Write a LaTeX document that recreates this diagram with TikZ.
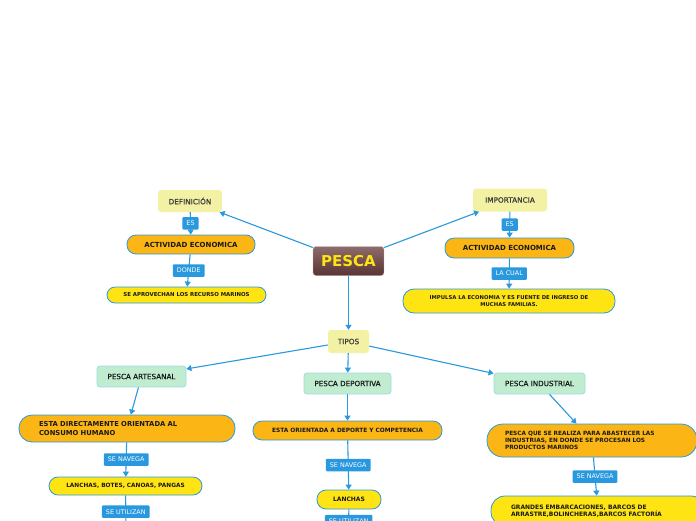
\documentclass[tikz,border=0pt]{standalone}
\usepackage{fontspec}
\setmainfont{DejaVu Sans}
\newfontfamily\medfont[FakeBold=0.7]{DejaVu Sans}
\usepackage{tikz}
\usetikzlibrary{arrows.meta, positioning, shadings}
\definecolor{mapblue}{RGB}{41,152,222}
\definecolor{maporange}{RGB}{251,182,22}
\definecolor{mapyellow}{RGB}{255,228,20}
\definecolor{mapcream}{RGB}{243,241,163}
\definecolor{mapgreen}{RGB}{192,236,208}
\definecolor{mapgreenline}{RGB}{160,218,228}
\definecolor{mapbrowntop}{RGB}{142,108,108}
\definecolor{mapbrownbot}{RGB}{88,52,52}
\definecolor{mapblack}{RGB}{25,25,25}

\begin{document}
\begin{tikzpicture}[
  x=1pt, y=-1pt,
  topbox/.style={rectangle, rounded corners=3pt, minimum width=71pt, minimum height=29pt, top color=mapbrowntop, bottom color=mapbrownbot, draw=mapbrowntop!60, text=mapyellow, font=\bfseries\fontsize{15}{15}\selectfont},
  ideabox/.style={rectangle, rounded corners=3pt, fill=mapcream, minimum height=22pt, text=mapblack!85, font=\medfont\fontsize{7.3}{8}\selectfont},
  typebox/.style={rectangle, rounded corners=3pt, fill=mapgreen, draw=mapgreenline, line width=0.8pt, minimum height=21pt, text=mapblack, font=\medfont\fontsize{7.2}{8}\selectfont},
  orangebox/.style={rectangle, rounded corners=9pt, fill=maporange, draw=mapblue, line width=0.8pt, text=mapblack, font=\bfseries\fontsize{6}{7.5}\selectfont},
  yellowbox/.style={rectangle, rounded corners=8pt, fill=mapyellow, draw=mapblue, line width=0.8pt, text=mapblack, font=\bfseries\fontsize{5.8}{7}\selectfont},
  tag/.style={rectangle, rounded corners=1pt, fill=mapblue, text=white, inner xsep=4pt, inner ysep=0pt, minimum height=12.5pt, font=\fontsize{6.4}{7}\selectfont},
  arr/.style={-{Triangle[length=5pt, width=6pt]}, line width=1.1pt, mapblue}
]
  \useasboundingbox (0,0) rectangle (696,520);
  \clip (0,0) rectangle (696,520);
  % Root
  \node[topbox] (pesca) at (348.5,261) {PESCA};
  % Definition branch
  \node[ideabox, minimum width=64pt] (def) at (190,201) {DEFINICIÓN};
  \node[orangebox, minimum width=128pt, minimum height=19pt, font=\bfseries\fontsize{7}{8}\selectfont] (act1) at (191,244.5) {ACTIVIDAD ECONOMICA};
  \node[yellowbox, minimum width=159pt, minimum height=16pt, font=\bfseries\fontsize{5.4}{6}\selectfont] (recur) at (186.5,295) {SE APROVECHAN LOS RECURSO MARINOS};
  % Importance branch
  \node[ideabox, minimum width=74pt, minimum height=23pt] (imp) at (510,200) {IMPORTANCIA};
  \node[orangebox, minimum width=129pt, minimum height=20pt, font=\bfseries\fontsize{7}{8}\selectfont] (act2) at (509.5,248) {ACTIVIDAD ECONOMICA};
  \node[yellowbox, minimum width=212pt, minimum height=24pt, rounded corners=11pt, align=center, font=\bfseries\fontsize{5.3}{7}\selectfont] (impul) at (509,301) {IMPULSA LA ECONOMIA Y ES FUENTE DE INGRESO DE\\MUCHAS FAMILIAS.};
  % Types
  \node[ideabox, minimum width=41pt, minimum height=23pt] (tipos) at (348.5,341.5) {TIPOS};
  \node[typebox, minimum width=89pt] (arte) at (141.5,376.5) {PESCA ARTESANAL};
  \node[typebox, minimum width=87pt] (depo) at (347.5,383.5) {PESCA DEPORTIVA};
  \node[typebox, minimum width=91pt] (indu) at (539.5,383.5) {PESCA INDUSTRIAL};
  % Artisanal column
  \node[orangebox, minimum width=216pt, minimum height=27pt, rounded corners=13pt, text width=176pt, align=left, font=\bfseries\fontsize{6.8}{9}\selectfont] (orient1) at (127,428.5) {ESTA DIRECTAMENTE ORIENTADA AL\\CONSUMO HUMANO};
  \node[yellowbox, minimum width=153pt, minimum height=18pt, rounded corners=9pt] (lanch1) at (125.5,486) {LANCHAS, BOTES, CANOAS, PANGAS};
  \coordinate (end1) at (126,528);
  % Sport column
  \node[orangebox, minimum width=189pt, minimum height=19pt, font=\bfseries\fontsize{5.85}{7}\selectfont] (orient2) at (347.5,430.5) {ESTA ORIENTADA A DEPORTE Y COMPETENCIA};
  \node[yellowbox, minimum width=64pt, minimum height=19pt, rounded corners=9pt, font=\bfseries\fontsize{6}{7}\selectfont] (lanch2) at (349,499.5) {LANCHAS};
  \coordinate (end2) at (348.5,533);
  % Industrial column
  \node[orangebox, minimum width=210pt, minimum height=33pt, rounded corners=16pt, text width=174pt, align=left, font=\bfseries\fontsize{5.8}{7.2}\selectfont] (orient3) at (592,440.5) {PESCA QUE SE REALIZA PARA ABASTECER LAS\\INDUSTRIAS, EN DONDE SE PROCESAN LOS\\PRODUCTOS MARINOS};
  \node[yellowbox, minimum width=214pt, minimum height=30pt, rounded corners=14pt, text width=174pt, align=left, font=\bfseries\fontsize{6}{7}\selectfont] (grand) at (598,511) {GRANDES EMBARCACIONES, BARCOS DE\\ARRASTRE,BOLINCHERAS,BARCOS FACTORÍA};
  % Arrows
  \draw[arr] (pesca) -- (def);
  \draw[arr] (pesca) -- (imp);
  \draw[arr] (pesca) -- (tipos);
  \draw[arr] (def) -- node[tag] {ES} (act1);
  \draw[arr] (act1) -- node[tag] {DONDE} (recur);
  \draw[arr] (imp) -- node[tag] {ES} (act2);
  \draw[arr] (act2) -- node[tag] {LA CUAL} (impul);
  \draw[arr] (tipos) -- (arte);
  \draw[arr] (tipos) -- (depo);
  \draw[arr] (tipos) -- (indu);
  \draw[arr] (arte) -- (orient1);
  \draw[arr] (depo) -- (orient2);
  \draw[arr] (indu) -- (orient3);
  \draw[arr] (orient1) -- node[tag] {SE NAVEGA} (lanch1);
  \draw[arr] (lanch1) -- node[tag] {SE UTILIZAN} (end1);
  \draw[arr] (orient2) -- node[tag] {SE NAVEGA} (lanch2);
  \draw[arr] (lanch2) -- node[tag] {SE UTILIZAN} (end2);
  \draw[arr] (orient3) -- node[tag] {SE NAVEGA} (grand);
\end{tikzpicture}
\end{document}
